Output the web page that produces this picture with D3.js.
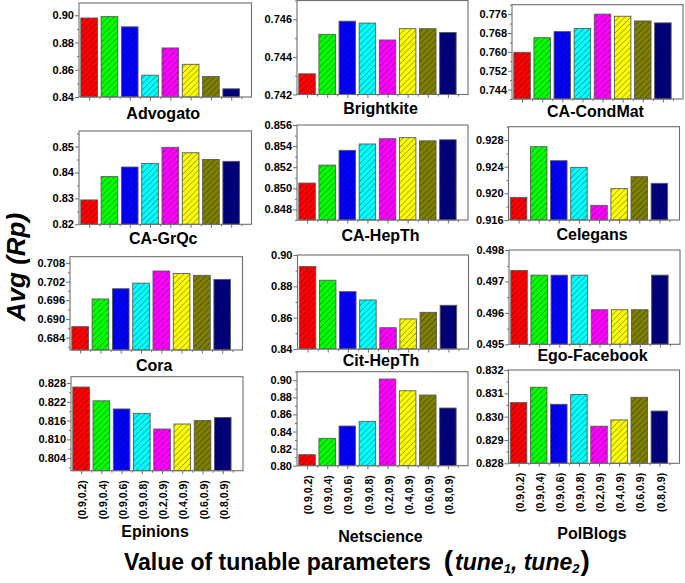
<!DOCTYPE html>
<html><head><meta charset="utf-8">
<script src="https://cdn.jsdelivr.net/npm/d3@7"></script>
<style>
html,body{margin:0;padding:0;background:#fff;}
svg{display:block;font-family:"Liberation Sans",Arial,sans-serif;}
</style></head>
<body>
<svg id="chart" width="685" height="583"></svg>
<script>
// ---- data ----
const datasets = ["Advogato","Brightkite","CA-CondMat","CA-GrQc","CA-HepTh","Celegans","Cora","Cit-HepTh","Ego-Facebook","Epinions","Netscience","PolBlogs"];
const paramLabels = ["(0.9,0.2)","(0.9,0.4)","(0.9,0.6)","(0.9,0.8)","(0.2,0.9)","(0.4,0.9)","(0.6,0.9)","(0.8,0.9)"];

const advogato    = [0.898, 0.899, 0.8915, 0.856, 0.876, 0.864, 0.855, 0.846];
const brightkite  = [0.7431, 0.7452, 0.7459, 0.7458, 0.7449, 0.7455, 0.7455, 0.7453];
const caCondMat   = [0.7598, 0.7660, 0.7686, 0.7699, 0.7760, 0.7751, 0.7731, 0.7723];
const caGrQc      = [0.8294, 0.8384, 0.8421, 0.8435, 0.8497, 0.8476, 0.8450, 0.8443];
const caHepTh     = [0.8505, 0.8522, 0.8536, 0.8542, 0.8547, 0.8548, 0.8545, 0.8546];
const celegans    = [0.9194, 0.9270, 0.9249, 0.9239, 0.9182, 0.9207, 0.9225, 0.9215];
const cora        = [0.6875, 0.6964, 0.6997, 0.7015, 0.7054, 0.7046, 0.7040, 0.7027];
const citHepTh    = [0.8926, 0.8839, 0.8766, 0.8713, 0.8536, 0.8592, 0.8634, 0.8679];
const egoFacebook = [0.49735, 0.4972, 0.4972, 0.4972, 0.4961, 0.4961, 0.4961, 0.4972];
const epinions    = [0.8267, 0.8223, 0.8197, 0.8183, 0.8133, 0.8149, 0.8160, 0.8170];
const netscience  = [0.8129, 0.8320, 0.8464, 0.8519, 0.9014, 0.8877, 0.8827, 0.8675];
const polBlogs    = [0.8306, 0.83126, 0.83053, 0.83095, 0.82959, 0.82986, 0.83083, 0.83024];

const seriesValues = [advogato, brightkite, caCondMat, caGrQc, caHepTh, celegans, cora, citHepTh, egoFacebook, epinions, netscience, polBlogs];

const yDomains = [[0.84,0.909],[0.742,0.747],[0.740,0.780],[0.82,0.856],[0.847,0.856],[0.916,0.930],
                  [0.680,0.710],[0.84,0.90],[0.495,0.498],[0.800,0.830],[0.80,0.91],[0.828,0.832]];
const yTicks = [[0.84,0.86,0.88,0.90],[0.742,0.744,0.746],[0.744,0.752,0.760,0.768,0.776],[0.82,0.83,0.84,0.85],
                [0.848,0.850,0.852,0.854,0.856],[0.916,0.920,0.924,0.928],[0.684,0.690,0.696,0.702,0.708],
                [0.84,0.86,0.88,0.90],[0.495,0.496,0.497,0.498],[0.804,0.810,0.816,0.822,0.828],
                [0.80,0.82,0.84,0.86,0.88,0.90],[0.828,0.829,0.830,0.831,0.832]];
const yDecimals = [2,3,3,2,3,3,3,2,3,3,2,3];

// ---- layout / style (not data) ----
const frames = [
  {x:79, y:3, w:172.5, h:94, ty:119}, {x:297, y:0.5, w:171, h:94, ty:114}, {x:512, y:4.7, w:171, h:94.3, ty:117},
  {x:79, y:131, w:172.5, h:93.3, ty:244}, {x:297, y:125, w:171, h:95, ty:241}, {x:508.5, y:126.7, w:171, h:93.3, ty:240},
  {x:70, y:256.7, w:172.5, h:93.3, ty:371}, {x:297.5, y:255, w:171, h:94, ty:366}, {x:509, y:250, w:171, h:94.3, ty:360.5},
  {x:71, y:376.7, w:172, h:94, ty:537}, {x:297, y:371.7, w:171, h:94, ty:541.5}, {x:508.5, y:370, w:171, h:93.3, ty:539}
];
const barColors = ["#ff0000","#00ff00","#0000ff","#00ffff","#ff00ff","#ffff00","#808000","#000080"];
const frameColor = "#6e6e6e";

const svg = d3.select("#chart");
const defs = svg.append("defs");
const pat = defs.append("pattern").attr("id","hatch").attr("patternUnits","userSpaceOnUse")
  .attr("width",4.2).attr("height",4.2).attr("patternTransform","rotate(45)");
pat.append("line").attr("x1",0).attr("y1",0).attr("x2",0).attr("y2",4.2)
  .attr("stroke","#000").attr("stroke-width",0.8).attr("stroke-opacity",0.75);

datasets.forEach((name, i) => {
  const f = frames[i];
  const vals = seriesValues[i];
  const g = svg.append("g");
  const x = d3.scaleLinear().domain([0.5, 9]).range([f.x, f.x + f.w]);
  const y = d3.scaleLinear().domain(yDomains[i]).range([f.y + f.h, f.y]);
  const slot = x(2) - x(1);
  const bw = slot * 0.82;

  // bars
  const bars = g.append("g");
  vals.forEach((v, j) => {
    const bx = x(j + 1) - bw / 2, by = y(v), bh = y(yDomains[i][0]) - y(v);
    bars.append("rect").attr("x",bx).attr("y",by).attr("width",bw).attr("height",bh)
      .attr("fill",barColors[j]);
    bars.append("rect").attr("x",bx).attr("y",by).attr("width",bw).attr("height",bh)
      .attr("fill","url(#hatch)").attr("stroke","#5a5a5a").attr("stroke-width",0.9);
  });

  // frame
  g.append("rect").attr("x",f.x).attr("y",f.y).attr("width",f.w).attr("height",f.h)
    .attr("fill","none").attr("stroke",frameColor).attr("stroke-width",1.1);

  // y axis major
  const ticks = yTicks[i];
  const yAxis = d3.axisLeft(y).tickValues(ticks).tickSize(4).tickPadding(1)
    .tickFormat(d3.format("." + yDecimals[i] + "f"));
  const ya = g.append("g").attr("transform",`translate(${f.x},0)`).call(yAxis);
  ya.select(".domain").remove();
  ya.selectAll("line").attr("stroke",frameColor);
  ya.selectAll("text").attr("font-size",11).attr("font-weight","bold").attr("fill","#000");

  // y axis minor
  const step = ticks[1] - ticks[0];
  const minor = [];
  const d0 = yDomains[i][0], d1 = yDomains[i][1];
  for (let k = -20; k <= 40; k++) {
    const t = ticks[0] + (k + 0.5) * step;
    if (t >= d0 - 1e-9 && t <= d1 + 1e-9) minor.push(t);
  }
  const ym = g.append("g").attr("transform",`translate(${f.x},0)`)
    .call(d3.axisLeft(y).tickValues(minor).tickSize(2).tickFormat(""));
  ym.select(".domain").remove();
  ym.selectAll("line").attr("stroke",frameColor);

  // x axis
  const centers = d3.range(1, 9);
  const isBottom = i >= 9;
  const xAxis = d3.axisBottom(x).tickValues(centers).tickSize(3.5)
    .tickFormat(isBottom ? (d => paramLabels[d - 1]) : "");
  const xa = g.append("g").attr("transform",`translate(0,${f.y + f.h})`).call(xAxis);
  xa.select(".domain").remove();
  xa.selectAll("line").attr("stroke",frameColor);
  if (isBottom) {
    xa.selectAll("text").attr("transform","rotate(-90)").attr("text-anchor","end")
      .attr("x",-9.5).attr("y",1).attr("dy","0.35em")
      .attr("font-size",10.5).attr("font-weight","bold").attr("fill","#000");
  }
  const halves = d3.range(1.5, 9, 1);
  const xm = g.append("g").attr("transform",`translate(0,${f.y + f.h})`)
    .call(d3.axisBottom(x).tickValues(halves).tickSize(2).tickFormat(""));
  xm.select(".domain").remove();
  xm.selectAll("line").attr("stroke",frameColor);

  // panel title
  g.append("text").attr("x", f.x + f.w / 2 - 2).attr("y", f.ty).attr("text-anchor","middle")
    .attr("font-size",16).attr("font-weight","bold").attr("fill","#000").text(name);
});

// axis titles
svg.append("text").attr("transform","translate(25,267) rotate(-90)").attr("text-anchor","middle")
  .attr("font-size",26).attr("font-weight","bold").attr("font-style","italic").attr("fill","#000")
  .text("Avg (Rp)");

const xt = svg.append("text").attr("x",124).attr("y",570).attr("font-weight","bold").attr("fill","#000")
  .attr("font-size",23);
xt.append("tspan").text("Value of tunable parameters");
xt.append("tspan").attr("dx",13).attr("font-size",28).attr("font-weight","bold").text("(");
xt.append("tspan").attr("font-style","italic").attr("dx",2).text("tune");
xt.append("tspan").attr("font-style","italic").attr("font-size",13).attr("dy",3).text("1");
xt.append("tspan").attr("font-style","italic").attr("dy",-3).text(", tune");
xt.append("tspan").attr("font-style","italic").attr("font-size",13).attr("dy",3).text("2");
xt.append("tspan").attr("dy",-3).attr("dx",1).attr("font-size",28).attr("font-weight","bold").text(")");
</script>
</body></html>
